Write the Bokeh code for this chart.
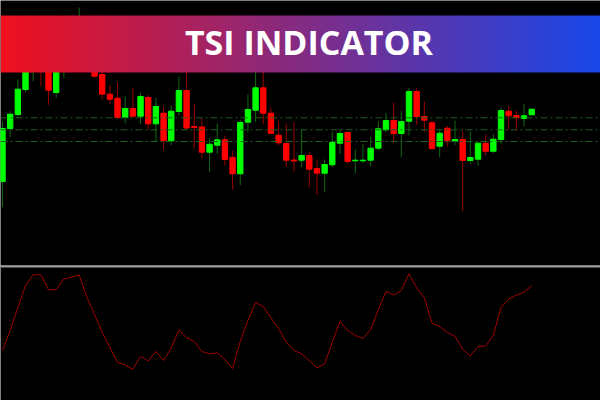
import numpy as np
from bokeh.plotting import figure
from bokeh.models import ColumnDataSource, Range1d, Span, Label
from bokeh.layouts import column
from bokeh.embed import file_html
from bokeh.resources import INLINE

# ---------------- data ----------------
opens = [1.10190, 1.10720, 1.10860, 1.11110, 1.11320, 1.11550, 1.11420, 1.11080, 1.11450, 1.11600,
         1.11700, 1.11780, 1.11550, 1.11260, 1.11063, 1.11023, 1.10830, 1.10920, 1.10843, 1.11030,
         1.10767, 1.10873, 1.10597, 1.10890, 1.11100, 1.10740, 1.10735, 1.10483, 1.10553, 1.10607,
         1.10430, 1.10267, 1.10783, 1.10903, 1.11127, 1.10873, 1.10653, 1.10570, 1.10405, 1.10403,
         1.10450, 1.10320, 1.10273, 1.10357, 1.10573, 1.10680, 1.10397, 1.10397, 1.10403, 1.10523,
         1.10707, 1.10800, 1.10670, 1.10793, 1.11090, 1.10840, 1.10777, 1.10543, 1.10723, 1.10590,
         1.10610, 1.10400, 1.10413, 1.10573, 1.10493, 1.10610, 1.10893, 1.10850, 1.10820, 1.10857]
highs = [1.10790, 1.10893, 1.11210, 1.11450, 1.11580, 1.11620, 1.11480, 1.11520, 1.11670, 1.11780,
         1.11930, 1.11820, 1.11600, 1.11320, 1.11153, 1.11180, 1.11040, 1.11123, 1.11073, 1.11053,
         1.11027, 1.10940, 1.10947, 1.11240, 1.11350, 1.10967, 1.10827, 1.10623, 1.10770, 1.10647,
         1.10497, 1.10807, 1.11063, 1.11380, 1.11340, 1.10930, 1.10797, 1.10770, 1.10783, 1.10710,
         1.10483, 1.10400, 1.10410, 1.10687, 1.10717, 1.10690, 1.10510, 1.10563, 1.10640, 1.10793,
         1.10873, 1.10977, 1.10893, 1.11127, 1.11127, 1.10990, 1.10800, 1.10717, 1.10747, 1.10800,
         1.10693, 1.10690, 1.10590, 1.10660, 1.10667, 1.10927, 1.10947, 1.10900, 1.10967, 1.10913]
lows = [1.09933, 1.10633, 1.10840, 1.11083, 1.11193, 1.11140, 1.10957, 1.11027, 1.11227, 1.11500,
        1.11580, 1.11450, 1.11227, 1.11010, 1.10967, 1.10817, 1.10773, 1.10833, 1.10763, 1.10710,
        1.10587, 1.10507, 1.10553, 1.10850, 1.10700, 1.10523, 1.10423, 1.10283, 1.10467, 1.10347,
        1.10107, 1.10153, 1.10683, 1.10787, 1.10767, 1.10667, 1.10553, 1.10340, 1.10290, 1.10333,
        1.10133, 1.10060, 1.10083, 1.10333, 1.10467, 1.10367, 1.10273, 1.10373, 1.10340, 1.10500,
        1.10683, 1.10583, 1.10433, 1.10650, 1.10757, 1.10687, 1.10507, 1.10433, 1.10540, 1.10553,
        1.09893, 1.10367, 1.10350, 1.10450, 1.10473, 1.10567, 1.10707, 1.10700, 1.10740, 1.10857]
closes = [1.10720, 1.10863, 1.11113, 1.11380, 1.11520, 1.11400, 1.11103, 1.11450, 1.11600, 1.11720,
          1.11800, 1.11550, 1.11243, 1.11063, 1.11013, 1.10830, 1.10920, 1.10843, 1.11040, 1.10767,
          1.10940, 1.10600, 1.10893, 1.11100, 1.10725, 1.10730, 1.10483, 1.10563, 1.10607, 1.10410,
          1.10267, 1.10780, 1.10910, 1.11127, 1.10873, 1.10673, 1.10577, 1.10403, 1.10395, 1.10450,
          1.10313, 1.10273, 1.10360, 1.10580, 1.10670, 1.10390, 1.10403, 1.10403, 1.10523, 1.10717,
          1.10800, 1.10670, 1.10790, 1.11090, 1.10840, 1.10803, 1.10520, 1.10673, 1.10597, 1.10610,
          1.10400, 1.10430, 1.10573, 1.10493, 1.10613, 1.10900, 1.10847, 1.10827, 1.10847, 1.10913]
tsi = [-20.0, -10.0, 1.5, 12.5, 17.9, 17.9, 10.4, 10.4, 15.7, 16.7,
       17.7, 6.7, -2.0, -10.9, -18.4, -26.0, -27.2, -29.4, -22.9, -25.2,
       -20.5, -25.0, -18.7, -9.7, -13.7, -15.4, -20.5, -21.7, -21.2, -24.5,
       -29.0, -15.4, -5.0, 4.0, 2.0, -3.7, -9.0, -15.9, -20.0, -21.7,
       -25.0, -28.7, -26.7, -15.9, -5.4, -10.0, -12.5, -14.0, -9.4, 0.4,
       9.5, 7.7, 10.0, 18.4, 11.2, 6.4, -6.4, -8.0, -11.0, -12.9,
       -19.4, -22.7, -18.0, -17.7, -12.4, 1.4, 5.7, 7.7, 9.2, 12.4]
levels = [1.10827, 1.10707, 1.10590]
title_text = "TSI INDICATOR"

# ---------------- styles ----------------
BG = "#000000"
UP_BODY, DN_BODY = "#00ff00", "#ff0000"
UP_WICK, DN_WICK = "#0f6a0f", "#9a0000"

W = 600
H_TOP, H_BOT = 265, 135

idx = list(range(len(opens)))
up = [c >= o for o, c in zip(opens, closes)]
src = ColumnDataSource(dict(
    x=idx, high=highs, low=lows,
    top=[max(o, c) for o, c in zip(opens, closes)],
    bottom=[min(o, c) for o, c in zip(opens, closes)],
    body=[UP_BODY if u else DN_BODY for u in up],
    wick=[UP_WICK if u else DN_WICK for u in up],
))

x_range = Range1d(-0.261, 77.97)


def base_fig(h, yr):
    f = figure(width=W, height=h, x_range=x_range, y_range=yr,
               x_axis_type=None, y_axis_type=None, toolbar_location=None,
               output_backend="svg", min_border=0)
    f.background_fill_color = BG
    f.border_fill_color = BG
    f.outline_line_color = None
    f.grid.visible = False
    return f


p1 = base_fig(H_TOP, Range1d(1.09350, 1.12000))
for lv in levels:
    p1.add_layout(Span(location=lv, dimension="width", line_color="#1f5f1f",
                       line_width=1, line_dash="7 3 2 3"))
p1.segment(x0="x", y0="high", x1="x", y1="low", source=src, line_color="wick", line_width=1)
p1.vbar(x="x", top="top", bottom="bottom", width=0.7, source=src,
        fill_color="body", line_color="body", line_width=1)

# gradient banner across the upper pane
ban_top, ban_bot = 1.11850, 1.11280
n = W
t = np.linspace(0.0, 1.0, n)
c0 = np.array([240, 16, 30]); c1 = np.array([24, 72, 234])
img = np.empty((1, n), dtype=np.uint32)
view = img.view(dtype=np.uint8).reshape((1, n, 4))
for k in range(3):
    view[0, :, k] = (c0[k] + (c1[k] - c0[k]) * t).astype(np.uint8)
view[0, :, 3] = 255
p1.image_rgba(image=[img], x=x_range.start, y=ban_bot,
              dw=x_range.end - x_range.start, dh=ban_top - ban_bot)
p1.add_layout(Label(x=39.96, y=(ban_top + ban_bot) / 2 + 0.00022, text=title_text,
                    text_font="Open Sans", text_font_style="bold", text_font_size="34px",
                    text_color="#ffffff", text_align="center", text_baseline="middle"))

p2 = base_fig(H_BOT, Range1d(-45.0, 22.5))
p2.add_layout(Span(location=22.0, dimension="width", line_color="#9c9c9c", line_width=2))
p2.line(x=idx, y=tsi, line_color="#a00000", line_width=1)

layout = column(p1, p2, spacing=0)
open("out.html", "w").write(file_html(layout, INLINE))
